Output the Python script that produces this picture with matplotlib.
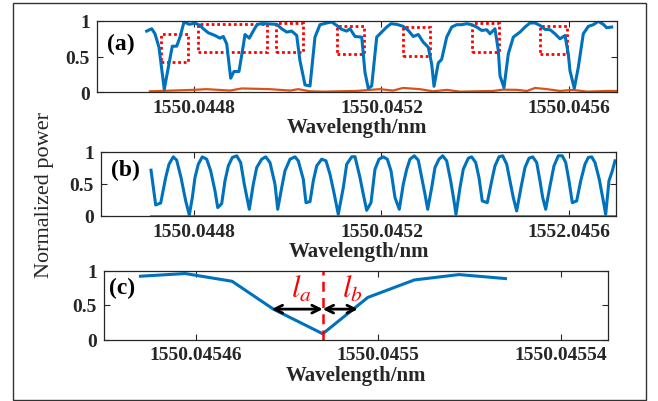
import numpy as np
import matplotlib
matplotlib.use("Agg")
import matplotlib.pyplot as plt
from matplotlib.patches import Rectangle

plt.rcParams['font.family'] = ['Liberation Serif', 'DejaVu Serif']
plt.rcParams['mathtext.fontset'] = 'stix'

# ---------------- data ----------------
# wavelength offsets in fm (1e-6 nm) relative to reference wavelengths
ref_ab = 1550.0448
ref_c = 1550.0455

a_blue_off = [-100.9, -90.2, -83.2, -74.7, -63.4, -54.8, -46.3, -36.9, -29.9, -21.3,
              -10.0, 2.1, 12.8, 19.8, 30.5, 44.8, 55.5, 62.5, 69.8, 78.3,
              85.3, 96.0, 105.2, 108.8, 118.0, 128.0, 135.0, 144.4, 151.5, 176.4,
              187.1, 197.8, 208.4, 219.1, 226.1, 236.8, 247.5, 258.1, 268.8, 283.1,
              293.8, 304.4, 315.1, 325.8, 332.8, 343.5, 357.8, 364.8, 371.8, 379.1,
              389.8, 400.4, 411.1, 420.3, 432.4, 446.5, 457.2, 467.8, 478.5, 489.2,
              499.8, 507.1, 512.0, 521.2, 528.4, 539.1, 549.8, 560.4, 571.1, 581.8,
              592.4, 603.1, 613.7, 624.4, 631.5, 642.1, 649.2, 652.8, 661.3, 670.5,
              681.2, 695.5, 706.1, 716.8, 727.5, 738.1, 748.8, 759.5, 770.1, 780.8,
              791.5, 798.5, 802.1, 811.3, 819.8, 830.5, 841.2, 851.8, 862.5, 873.2,
              880.4, 891.1]
a_blue_val = [0.858, 0.891, 0.82, 0.63, 0.038, 0.346, 0.645, 0.645, 0.773, 0.986,
              0.953, 0.97, 0.938, 0.891, 0.834, 0.796, 0.758, 0.782, 0.678, 0.194,
              0.289, 0.289, 0.654, 0.81, 0.758, 0.877, 0.953, 0.962, 0.962, 0.953,
              0.891, 0.844, 0.858, 0.796, 0.441, 0.1, 0.085, 0.773, 0.948, 0.972,
              0.986, 0.938, 0.882, 0.858, 0.891, 0.782, 0.773, 0.275, 0.052, 0.085,
              0.773, 0.844, 0.915, 0.962, 0.953, 0.924, 0.867, 0.782, 0.81, 0.701,
              0.63, 0.393, 0.08, 0.41, 0.46, 0.773, 0.915, 0.948, 0.948, 0.962,
              0.948, 0.915, 0.867, 0.877, 0.82, 0.891, 0.583, 0.227, 0.062, 0.536,
              0.773, 0.844, 0.915, 0.972, 0.972, 0.938, 0.882, 0.877, 0.82, 0.749,
              0.796, 0.536, 0.299, 0.052, 0.346, 0.82, 0.924, 0.948, 0.995, 0.953,
              0.905, 0.915]

a_orange_off = [-93.9, -1.5, 27.1, 76.8, 101.8, 162.1, 204.8, 222.5, 247.5, 275.2,
                347.1, 375.5, 396.8, 424.5, 445.9, 482.1, 509.9, 539.7, 567.5, 637.9,
                659.2, 689.1, 710.4, 727.5, 753.1, 780.8, 808.5, 838.4, 881.1, 902.4]
a_orange_val = [0.01, 0.03, 0.04, 0.02, 0.05, 0.04, 0.02, 0.04, 0.01, 0.005,
                0.015, 0.03, 0.04, 0.02, 0.057, 0.04, 0.01, 0.03, 0.005, 0.015,
                0.033, 0.03, 0.015, 0.057, 0.04, 0.015, 0.03, 0.005, 0.015, 0.015]

# dotted boxes in panel (a): x start/end offsets (fm), y low/high
box_x0 = [-70.4, 8.5, 174.9, 304.4, 445.2, 594.1, 738.1]
box_x1 = [-13.4, 154.7, 233.2, 362.7, 503.5, 650.2, 795.1]
box_y0 = [0.42, 0.557, 0.565, 0.535, 0.505, 0.562, 0.535]
box_y1 = [0.82, 0.955, 0.965, 0.93, 0.91, 0.965, 0.93]

b_blue_off = [-91.7, -81.7, -71.0, -60.4, -53.3, -44.2, -36.9, -27.7, -17.7, -10.0,
              -3.6, 2.1, 9.2, 17.7, 27.1, 35.6, 44.8, 50.6, 59.1, 66.1,
              73.2, 81.7, 91.1, 99.6, 107.3, 118.0, 126.5, 133.8, 144.4, 153.0,
              162.1, 172.8, 178.6, 187.1, 194.1, 204.8, 215.5, 222.5, 233.2, 238.9,
              247.5, 254.5, 261.8, 272.4, 281.6, 290.1, 299.3, 307.8, 318.5, 325.8,
              336.4, 343.5, 354.1, 361.2, 368.4, 377.6, 386.1, 394.7, 403.8, 412.4,
              420.3, 428.8, 438.0, 446.5, 453.8, 460.8, 470.0, 478.5, 485.8, 492.8,
              498.6, 507.1, 514.1, 522.7, 530.6, 539.1, 547.6, 554.7, 558.9, 567.5,
              574.5, 585.2, 592.4, 601.0, 608.0, 615.0, 625.7, 635.1, 642.1, 650.7,
              658.6, 667.1, 674.1, 681.2, 688.4, 697.6, 706.1, 714.7, 722.6, 731.1,
              738.1, 743.9, 750.3, 759.5, 768.0, 777.2, 785.7, 793.0, 800.0, 807.1,
              816.4, 825.0, 834.1, 841.2, 848.4, 855.5, 864.6, 873.2, 878.3, 885.3,
              892.4, 898.1]
b_blue_val = [0.71, 0.171, 0.202, 0.596, 0.803, 0.917, 0.865, 0.596, 0.233, 0.016,
              0.285, 0.596, 0.803, 0.917, 0.881, 0.7, 0.389, 0.13, 0.192, 0.544,
              0.777, 0.907, 0.933, 0.829, 0.492, 0.104, 0.492, 0.751, 0.881, 0.917,
              0.829, 0.492, 0.104, 0.44, 0.7, 0.881, 0.917, 0.855, 0.57, 0.207,
              0.223, 0.544, 0.777, 0.881, 0.855, 0.648, 0.337, 0.026, 0.44, 0.803,
              0.917, 0.92, 0.596, 0.337, 0.088, 0.207, 0.725, 0.881, 0.917, 0.881,
              0.7, 0.285, 0.104, 0.492, 0.725, 0.881, 0.933, 0.865, 0.596, 0.337,
              0.104, 0.44, 0.751, 0.881, 0.933, 0.855, 0.544, 0.233, 0.026, 0.44,
              0.725, 0.896, 0.917, 0.829, 0.596, 0.233, 0.207, 0.544, 0.777, 0.917,
              0.933, 0.803, 0.544, 0.285, 0.078, 0.44, 0.751, 0.896, 0.917, 0.829,
              0.544, 0.285, 0.104, 0.466, 0.777, 0.933, 0.933, 0.829, 0.544, 0.207,
              0.233, 0.544, 0.803, 0.907, 0.917, 0.829, 0.57, 0.233, 0.026, 0.544,
              0.7, 0.855]
b_orange_off = [-91.7, 900.0]
b_orange_val = [0.0, 0.0]

c_blue_off = [-52.2, -42.4, -32.1, -23.0, -12.2, -2.3, 7.9, 17.7, 27.9]
c_blue_val = [0.917, 0.956, 0.844, 0.439, 0.083, 0.61, 0.863, 0.941, 0.883]
c_center_off = -12.2
c_la_start_off = -23.4
c_lb_end_off = -4.5
c_arrow_level = 0.44

ab_ticks = [1550.0448, 1550.0452, 1550.0456]
a_ticklabels = ['1550.0448', '1550.0452', '1550.0456']
b_ticklabels = ['1550.0448', '1550.0452', '1552.0456']
c_ticks = [1550.04546, 1550.0455, 1550.04554]
c_ticklabels = ['1550.04546', '1550.0455', '1550.04554']
y_ticks = [0, 0.5, 1]
y_ticklabels = ['0', '0.5', '1']

# ---------------- plotting ----------------
BLUE = '#0072BD'
ORANGE = '#D95319'
AXC = '#262626'

fig = plt.figure(figsize=(6.58, 4.02), dpi=100)
W, H = 658.0, 402.0

def px_axes(l, t, r, b):
    return fig.add_axes([l / W, 1 - b / H, (r - l) / W, (b - t) / H])

ax_a = px_axes(97, 22, 617, 93)
ax_b = px_axes(101, 152.5, 616, 217)
ax_c = px_axes(104, 271.5, 608, 340.5)

def wl(ref, off):
    return ref + np.asarray(off) * 1e-6

def style(ax, xticks, xlabels):
    ax.set_ylim(0, 1)
    ax.set_yticks(y_ticks)
    ax.set_yticklabels(y_ticklabels)
    ax.set_xticks(xticks)
    ax.set_xticklabels(xlabels)
    for s in ax.spines.values():
        s.set_color(AXC)
        s.set_linewidth(0.9)
    ax.tick_params(direction='in', top=True, right=True, length=4, width=0.8,
                   color=AXC, labelsize=14, pad=5)
    for lab in ax.get_xticklabels() + ax.get_yticklabels():
        lab.set_fontweight('bold')
        lab.set_color('#262626')
    ax.set_xlabel('Wavelength/nm', fontsize=15, fontweight='bold', labelpad=1,
                  color='#262626')

# panel (a)
ax_a.plot(wl(ref_ab, a_orange_off), a_orange_val, color=ORANGE, lw=1.6)
ax_a.plot(wl(ref_ab, a_blue_off), a_blue_val, color=BLUE, lw=2.2)
for x0, x1, y0, y1 in zip(box_x0, box_x1, box_y0, box_y1):
    ax_a.add_patch(Rectangle((wl(ref_ab, x0), y0), (x1 - x0) * 1e-6, y1 - y0,
                             fill=False, edgecolor='red', lw=2.0,
                             linestyle=(0, (1, 1))))
ax_a.set_xlim(wl(ref_ab, -206.9), wl(ref_ab, 902.4))
style(ax_a, ab_ticks, a_ticklabels)
ax_a.text(0.02, 0.68, '(a)', transform=ax_a.transAxes, fontsize=17,
          fontweight='bold', va='center', ha='left')

# panel (b)
ax_b.plot(wl(ref_ab, b_orange_off), b_orange_val, color=ORANGE, lw=2.0)
ax_b.plot(wl(ref_ab, b_blue_off), b_blue_val, color=BLUE, lw=2.2)
ax_b.set_xlim(wl(ref_ab, -198.4), wl(ref_ab, 900.3))
style(ax_b, ab_ticks, b_ticklabels)
ax_b.text(0.02, 0.72, '(b)', transform=ax_b.transAxes, fontsize=17,
          fontweight='bold', va='center', ha='left')

# panel (c)
ax_c.plot(wl(ref_c, c_blue_off), c_blue_val, color=BLUE, lw=2.2)
ax_c.set_xlim(wl(ref_c, -60.2), wl(ref_c, 50.4))
style(ax_c, c_ticks, c_ticklabels)
xc = wl(ref_c, c_center_off)
ax_c.plot([xc, xc], [0, 1], color='red', lw=1.8, linestyle=(0, (4, 2.5)))
ax_c.annotate('', xy=(wl(ref_c, c_la_start_off), c_arrow_level),
              xytext=(xc, c_arrow_level),
              arrowprops=dict(arrowstyle='<->', color='black', lw=2,
                              shrinkA=0, shrinkB=0, mutation_scale=14))
ax_c.annotate('', xy=(wl(ref_c, c_lb_end_off), c_arrow_level),
              xytext=(xc, c_arrow_level),
              arrowprops=dict(arrowstyle='<->', color='black', lw=2,
                              shrinkA=0, shrinkB=0, mutation_scale=14))
ax_c.text(wl(ref_c, -19.2), 0.62, r'$l_a$', color='red', fontsize=22)
ax_c.text(wl(ref_c, -8.0), 0.62, r'$l_b$', color='red', fontsize=22)
ax_c.text(0.01, 0.76, '(c)', transform=ax_c.transAxes, fontsize=17,
          fontweight='bold', va='center', ha='left')

# shared y label
fig.text(45 / W, 1 - 195 / H, 'Normalized power', rotation=90, fontsize=16,
         ha='center', va='center', color='#262626')

# outer frame
fig.add_artist(Rectangle((12.5 / W, 1.5 / H), (646 - 12.5) / W, (398 - 1.5) / H,
                         transform=fig.transFigure, fill=False,
                         edgecolor='#333333', lw=1.0))

fig.savefig('out.png', dpi=100)
